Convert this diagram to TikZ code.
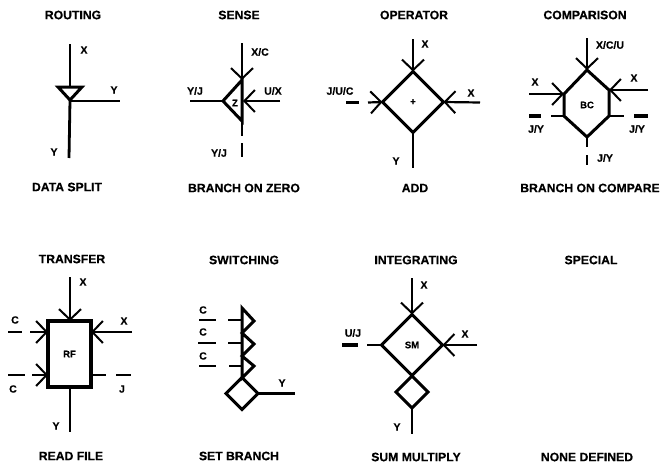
\documentclass[tikz,border=0pt]{standalone}
\usepackage{fontspec}
\setmainfont{Liberation Sans}[BoldFeatures={FakeBold=0.4}]
\usetikzlibrary{shapes.geometric,arrows.meta}
\tikzset{
  title/.style={font=\fontsize{12.2}{14}\selectfont\bfseries,inner sep=0pt},
  lab/.style={font=\fontsize{10.5}{12}\selectfont\bfseries,inner sep=0pt},
  inner/.style={font=\fontsize{9.5}{11}\selectfont\bfseries},
  conn/.style={line width=2.2pt},
  heavy/.style={line width=2.8pt},
  shape line/.style={line width=3pt,line join=miter},
  into/.style={conn,-{Straight Barb[length=10.5pt,width=22pt,line width=2pt]}},
  dia/.style={diamond,aspect=1,draw,shape line,inner sep=0pt,outer sep=0pt},
}
\begin{document}
\begin{tikzpicture}[x=1pt,y=-1pt]
\useasboundingbox (0,0) rectangle (662,466);
% titles
\foreach \n/\x/\y/\t in {t1/73/15/ROUTING,t2/239/15/SENSE,t3/414/15/OPERATOR,t4/585/15/COMPARISON,
 b1/67/187/DATA SPLIT,b2/244/188/BRANCH ON ZERO,b3/415/188/ADD,b4/590/188/BRANCH ON COMPARE,
 t5/72/259/TRANSFER,t6/244/260/SWITCHING,t7/416/260/INTEGRATING,t8/591/260/SPECIAL,
 b5/71/456/READ FILE,b6/239/456/SET BRANCH,b7/416/457/SUM MULTIPLY,b8/587/457/NONE DEFINED}
  {\node[title] (\n) at (\x,\y) {\t};}
% labels
\foreach \n/\x/\y/\t in {a1/84/50/X,a2/114/90/Y,a3/54/152/Y,
 c1/195/91/Y\slash J,c2/273/91/U\slash X,c3/260/52/X\slash C,c4/219/153/Y\slash J,
 d1/425/44/X,d2/340/91/J\slash U\slash C,d3/471/93/X,d4/396/161/Y,
 e1/610/45/X\slash C\slash U,e2/535/82/X,e3/634/78/X,e4/536/129/J\slash Y,e5/637/129/J\slash Y,e6/605/158/J\slash Y,
 f1/83/282/X,f2/15/320/C,f3/124/321/X,f4/13/389/C,f5/122/389/J,f6/56/426/Y,
 g1/203/310/C,g2/203/332/C,g3/203/356/C,g4/282/383/Y,
 h1/424/285/X,h2/353/333/U\slash J,h3/465/334/X,h4/397/427/Y}
  {\node[lab] (\n) at (\x,\y) {\t};}

% ROUTING
\coordinate (ra) at (70,44); \coordinate (rb) at (58,87); \coordinate (rc) at (82,87);
\coordinate (rd) at (70,100); \coordinate (re) at (120,101); \coordinate (rf) at (69,158);
\coordinate (rg) at (70,87);
\draw[shape line] (rb) -- (rc) -- (rd) -- cycle;
\draw[heavy] (ra) -- (rg);
\draw[heavy] (rd) -- (rf);
\draw[heavy] (rd |- re) -- (re);

% SENSE
\coordinate (sa) at (242,43); \coordinate (st) at (242,80); \coordinate (sl) at (223,101);
\coordinate (sb) at (242,121); \coordinate (sm) at (243,101); \coordinate (sc) at (280,101);
\coordinate (sd) at (190,101); \coordinate (se) at (242,136); \coordinate (sf) at (242,143);
\coordinate (sg) at (242,157);
\draw[shape line] (st) -- (sl) -- (sb) -- cycle;
\draw[into] (sa) -- (st);
\draw[into] (sc) -- (sm);
\draw[conn] (sl) -- (sd);
\draw[heavy] (sb) -- (se);
\draw[heavy] (sf) -- (sg);
\node[inner,inner sep=0pt] (sz) at (235,103) {Z};

% OPERATOR
\node[dia,minimum size=61pt,font=\fontsize{9.5}{11}\selectfont\bfseries] (op) at (413,102) {+};
\coordinate (oa) at (413,39); \coordinate (ob) at (413,168); \coordinate (oc) at (480,102.5);
\coordinate (od) at (346,102.5); \coordinate (oe) at (359,102.5); \coordinate (of) at (368,102.5);
\draw[into] (oa) -- (op.north);
\draw[into] (oc) -- (op.east);
\draw[heavy] (od) -- (oe);
\draw[into] (of) -- (op.west);
\draw[heavy] (op.south) -- (ob);

% COMPARISON
\coordinate (ct) at (587,70); \coordinate (cl1) at (564,94); \coordinate (cl2) at (564,116);
\coordinate (cb) at (587,137); \coordinate (cr2) at (609,116); \coordinate (cr1) at (609,90);
\draw[shape line] (ct) -- (cl1) -- (cl2) -- (cb) -- (cr2) -- (cr1) -- cycle;
\node[inner,inner sep=0pt] (cbc) at (587,105) {BC};
\coordinate (ca) at (587,38); \coordinate (cc) at (529,94); \coordinate (cd) at (648,90);
\coordinate (ce) at (529,116); \coordinate (cf) at (541,116); \coordinate (cg) at (551,116);
\coordinate (ch) at (624,116); \coordinate (ci) at (634,116); \coordinate (cj) at (648,116);
\coordinate (ck) at (587,147); \coordinate (cm) at (587,155); \coordinate (cn) at (587,165);
\draw[into] (ca) -- (ct);
\draw[into,line width=2.8pt] (cc) -- (cl1);
\draw[into] (cd) -- (cr1);
\draw[line width=3.2pt] (ce) -- (cf);
\draw[heavy] (cg) -- (cl2);
\draw[heavy] (cr2) -- (ch);
\draw[line width=3.2pt] (ci) -- (cj);
\draw[conn] (cb) -- (ck);
\draw[conn] (cm) -- (cn);

% TRANSFER
\node[draw,line width=3.2pt,minimum width=43pt,minimum height=66pt,inner sep=0pt,outer sep=0pt,inner] (rfb) at (69.5,354) {RF};
\coordinate (fa) at (70,277); \coordinate (fat) at (70,321); \coordinate (fb) at (70,432); \coordinate (fbb) at (70,387);
\coordinate (fc) at (8,332); \coordinate (fd) at (22,332); \coordinate (fe) at (30,332); \coordinate (fl1) at (48,332);
\coordinate (ff) at (132,332); \coordinate (fr1) at (91,332);
\coordinate (fg) at (8,375); \coordinate (fh) at (25,375); \coordinate (fi) at (32,375); \coordinate (fl2) at (48,375);
\coordinate (fr2) at (91,375); \coordinate (fj) at (106,375); \coordinate (fk) at (116,375); \coordinate (fm) at (131,375);
\draw[into] (fa) -- (fat);
\draw[conn] (fbb) -- (fb);
\draw[conn] (fc) -- (fd);
\draw[into] (fe) -- (fl1);
\draw[into] (ff) -- (fr1);
\draw[heavy] (fg) -- (fh);
\draw[into] (fi) -- (fl2);
\draw[heavy] (fr2) -- (fj);
\draw[heavy] (fk) -- (fm);

% SWITCHING
\coordinate (w1) at (242,308); \coordinate (w2) at (254,321); \coordinate (w3) at (242,333);
\coordinate (w4) at (254,344); \coordinate (w5) at (242,356); \coordinate (w6) at (254,366);
\coordinate (w7) at (242,378);
\draw[shape line] (w1) -- (w2) -- (w3) -- (w4) -- (w5) -- (w6) -- (w7) -- cycle;
\node[dia,minimum size=32pt] (wd) at (242,393.5) {};
\coordinate (wy) at (295,393.5);
\draw[conn] (wd.east) -- (wy);
\foreach \i/\y/\xa/\xb/\xc in {1/320/199/216/228,2/343/198/216/228,3/366/199/216/229}{
  \coordinate (wa\i) at (\xa,\y); \coordinate (wb\i) at (\xb,\y); \coordinate (wc\i) at (\xc,\y); \coordinate (we\i) at (242,\y);
  \draw[conn] (wa\i) -- (wb\i);
  \draw[conn] (wc\i) -- (we\i);
}

% INTEGRATING
\node[dia,minimum size=61pt,font=\fontsize{9.5}{11}\selectfont\bfseries] (sm) at (412,345) {SM};
\node[dia,minimum size=32pt] (smd) at (412,392) {};
\coordinate (ia) at (412,278); \coordinate (ib) at (412,434); \coordinate (ic) at (477,345);
\coordinate (id) at (342,345); \coordinate (ie) at (358,345); \coordinate (if) at (367,345);
\draw[into] (ia) -- (sm.north);
\draw[into] (ic) -- (sm.east);
\draw[line width=3.6pt] (id) -- (ie);
\draw[heavy] (if) -- (sm.west);
\draw[heavy] (smd.south) -- (ib);
\end{tikzpicture}
\end{document}
